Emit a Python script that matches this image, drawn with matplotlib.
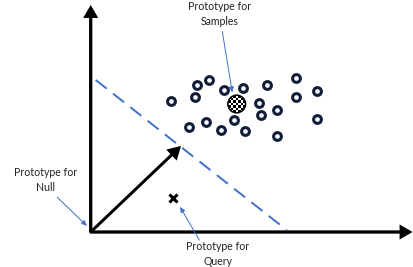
import numpy as np
import matplotlib
matplotlib.use("Agg")
import matplotlib.pyplot as plt
from matplotlib.patches import Circle, FancyArrowPatch

# ---- data (pixel-like diagram coordinates, y downward) ----
sample_x = [170.7, 196.7, 209.3, 194.7, 224.0, 242.7, 266.7, 296.0, 316.7, 296.0,
            258.7, 260.7, 277.3, 316.7, 189.3, 206.0, 234.0, 220.7, 244.7, 276.7]
sample_y = [100.7, 85.0, 80.0, 97.3, 90.0, 88.0, 84.7, 77.7, 90.7, 97.3,
            102.7, 115.3, 110.0, 119.0, 127.3, 122.0, 120.0, 130.0, 130.7, 136.0]
proto_samples = (236.7, 104.0)
proto_query = (172.5, 197.5)
proto_null = (90.7, 232.0)
vector_tip = (181.0, 146.0)
boundary = [(95.7, 80.0), (286.7, 230.0)]
origin = (90.7, 232.0)
x_axis_end = (412.5, 232.0)
y_axis_end = (90.7, 5.0)

label_samples = "Prototype for\nSamples"
label_null = "Prototype for\nNull"
label_query = "Prototype for\nQuery"

W, H = 413, 267
fig = plt.figure(figsize=(W / 100, H / 100), dpi=100)
ax = fig.add_axes([0, 0, 1, 1])
ax.set_xlim(0, W)
ax.set_ylim(H, 0)
ax.axis("off")

pt = 0.72  # points per pixel at 100 dpi
blue = "#4472C4"
font = dict(family=["Lato", "DejaVu Sans"], fontsize=7.6, color="#222222",
            ha="center", va="center", linespacing=1.35)

# axes arrows
for end in (x_axis_end, y_axis_end):
    ax.add_patch(FancyArrowPatch(origin, end, arrowstyle="-|>,head_length=2.4,head_width=1.4",
                                 lw=3.3 * pt, color="black", shrinkA=0, shrinkB=0,
                                 mutation_scale=2.4, joinstyle="miter", capstyle="butt"))
# vector arrow
ax.add_patch(FancyArrowPatch(origin, vector_tip, arrowstyle="-|>,head_length=2.6,head_width=1.5",
                             lw=3.0 * pt, color="black", shrinkA=0, shrinkB=0,
                             mutation_scale=2.4, joinstyle="miter"))

# dashed boundary
bx, by = zip(*boundary)
ax.plot(bx, by, color=blue, lw=2.0 * pt, dashes=(7, 4), solid_capstyle="butt",
        dash_capstyle="butt")

# samples
ax.plot(sample_x, sample_y, "o", ms=5.6, mew=2.2, mfc="white", mec="#0f1c3a", zorder=5)

# checkered prototype
cx, cy = proto_samples
r = 8.8
n = 7
checker = (np.indices((n, n)).sum(axis=0) % 2).astype(float)
im = ax.imshow(checker, cmap="gray", extent=(cx - r, cx + r, cy + r, cy - r),
               interpolation="nearest", zorder=6)
clip = Circle((cx, cy), r, transform=ax.transData)
im.set_clip_path(clip)
ax.add_patch(Circle((cx, cy), r, fill=False, ec="black", lw=1.6 * pt, zorder=7))

# query marker
ax.plot(*proto_query, "x", ms=6.0, mew=2.2, color="black", zorder=5)

# labels with thin blue arrows
def label(text, pos, start, tip):
    ax.text(pos[0], pos[1], text, **font)
    ax.add_patch(FancyArrowPatch(start, tip, arrowstyle="-|>,head_length=1.6,head_width=0.7",
                                 lw=1.0 * pt, color=blue, shrinkA=0, shrinkB=0,
                                 mutation_scale=2.0))

label(label_samples, (219.5, 14.0), (222.3, 31.5), (232.3, 92.5))
label(label_null, (45.8, 180.0), (57.3, 197.3), (87.0, 226.0))
label(label_query, (218.0, 254.0), (199.3, 240.0), (180.0, 206.7))

fig.savefig("out.png", dpi=100)
